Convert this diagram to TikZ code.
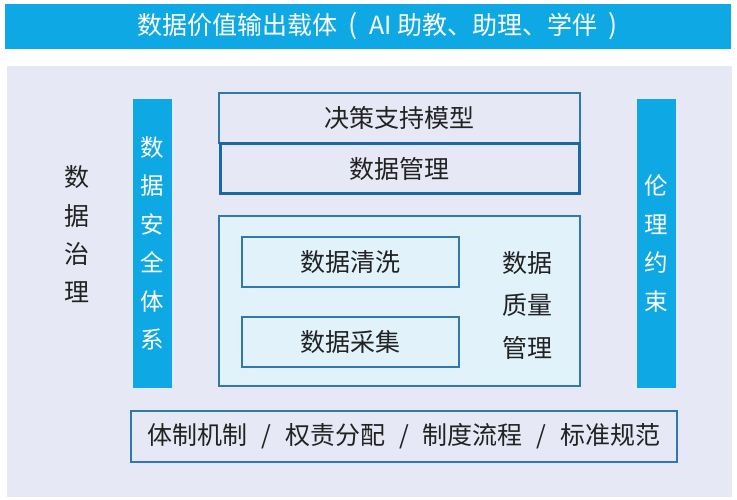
\documentclass[tikz,border=0pt]{standalone}
\usepackage{fontspec}
\setmainfont{Noto Sans CJK SC}
\definecolor{bannerblue}{HTML}{0EA8E4}
\definecolor{panelbg}{HTML}{E6E9F5}
\definecolor{boxline}{HTML}{2F78B0}
\definecolor{darkline}{HTML}{1B68A6}
\definecolor{innerfill}{HTML}{E1F2FB}
\definecolor{txt}{HTML}{222222}
\newcommand\slashsep{\hspace{0.56em}/\hspace{0.56em}}
\tikzset{
  box/.style={draw=boxline, line width=1.4pt, inner sep=0pt, text=txt, font=\fontsize{25}{30}\selectfont},
  bar/.style={fill=bannerblue, inner sep=0pt, text=white, align=center, font=\fontsize{23.5}{38.5}\selectfont},
  vtext/.style={inner sep=0pt, text=txt, align=center},
}
\begin{document}
\begin{tikzpicture}[x=1pt,y=-1pt]
\useasboundingbox (0,0) rectangle (737,500);
\fill[white] (0,0) rectangle (737,500);
% banner
\node[fill=bannerblue, inner sep=0pt, minimum width=726pt, minimum height=45pt] (banner) at (368,26.5) {};
\node[inner sep=0pt, text=white, font=\fontsize{25}{30}\selectfont] (bannertext) at (377.5,26.5) {数据价值输出载体\hspace{0.45em}{\fontsize{27}{30}\selectfont(}\hspace{0.45em}AI 助教、助理、学伴\hspace{0.45em}{\fontsize{27}{30}\selectfont)}};
% panel
\node[fill=panelbg, inner sep=0pt, minimum width=725pt, minimum height=430pt] (panel) at (369.5,281.5) {};
% left label
\node[vtext, font=\fontsize{25}{38.3}\selectfont] (gov) at (77,234.5) {数\\据\\治\\理};
% bars
\node[bar, minimum width=39pt, minimum height=289pt] (secbar) at (152.5,243.5) {数\\据\\安\\全\\体\\系};
\node[bar, minimum width=39pt, minimum height=289pt] (ethbar) at (656.5,243.5) {伦\\理\\约\\束};
% top boxes
\node[box, fill=panelbg, minimum width=361pt, minimum height=50pt] (model) at (399.5,118) {决策支持模型};
\node[box, draw=darkline, line width=3pt, fill=panelbg, minimum width=359pt, minimum height=50pt] (mgmt) at (399.5,168.5) {数据管理};
% quality box
\node[box, fill=innerfill, minimum width=361pt, minimum height=170pt] (quality) at (399.5,301) {};
\node[box, fill=innerfill, minimum width=217pt, minimum height=50pt] (clean) at (350.5,262) {数据清洗};
\node[box, fill=innerfill, minimum width=217pt, minimum height=50pt] (collect) at (350.5,342) {数据采集};
\node[vtext, font=\fontsize{25}{42.5}\selectfont] (qmgmt) at (527,305) {数据\\质量\\管理};
% bottom box
\node[box, fill=panelbg, minimum width=546pt, minimum height=51pt] (inst) at (404,436.5) {体制机制\slashsep 权责分配\slashsep 制度流程\slashsep 标准规范};
\end{tikzpicture}
\end{document}
